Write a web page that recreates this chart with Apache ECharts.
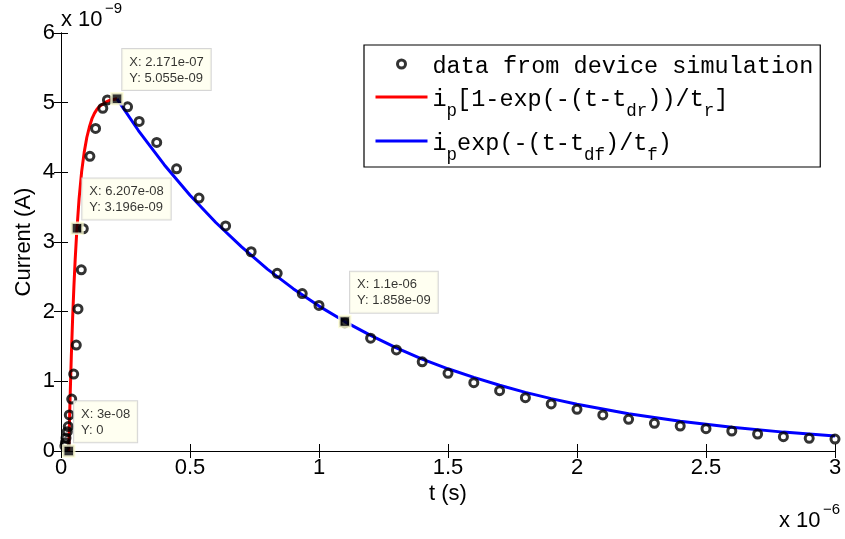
<!DOCTYPE html>
<html><head><meta charset="utf-8">
<script src="https://cdn.jsdelivr.net/npm/echarts@6/dist/echarts.min.js"></script>
<style>html,body{margin:0;padding:0;background:#fff}#c{width:845px;height:539px}</style>
</head><body><div id="c"></div>
<script>
// time in units of 1e-6 s, current in units of 1e-9 A
const simT = [0.015, 0.017, 0.0194, 0.0244, 0.0283, 0.0322, 0.0415, 0.0492, 0.0593, 0.0659, 0.0787, 0.0864, 0.112, 0.134, 0.162, 0.18,
  0.258, 0.303, 0.371, 0.448, 0.535, 0.638, 0.737, 0.838, 0.935, 1.0, 1.1, 1.2, 1.3, 1.4, 1.5, 1.6, 1.7, 1.8, 1.9, 2.0,
  2.1, 2.2, 2.3, 2.4, 2.5, 2.6, 2.7, 2.8, 2.9, 3.0];
const simY = [0.07, 0.12, 0.187, 0.278, 0.35, 0.517, 0.746, 1.105, 1.52, 2.04, 2.60, 3.19, 4.23, 4.63, 4.92, 5.04,
  4.94, 4.73, 4.43, 4.05, 3.63, 3.23, 2.86, 2.55, 2.26, 2.09, 1.84, 1.62, 1.45, 1.28, 1.115, 0.98, 0.866, 0.765, 0.675, 0.598,
  0.517, 0.455, 0.397, 0.359, 0.32, 0.287, 0.244, 0.205, 0.182, 0.172];

const riseT = [0.03, 0.035, 0.04, 0.045, 0.05, 0.055, 0.06, 0.06207, 0.07, 0.08, 0.09, 0.10, 0.11, 0.12, 0.13, 0.14, 0.15, 0.17, 0.19, 0.2171];
const riseY = [0, 0.73, 1.36, 1.90, 2.36, 2.75, 3.08, 3.196, 3.62, 4.01, 4.29, 4.50, 4.65, 4.77, 4.85, 4.91, 4.95, 5.00, 5.036, 5.055];

const fallT = [0.2171, 0.3, 0.4, 0.5, 0.6, 0.7, 0.8, 0.9, 1.0, 1.1, 1.2, 1.3, 1.4, 1.5, 1.6, 1.7, 1.8, 1.9, 2.0, 2.2, 2.4, 2.6, 2.8, 3.0];
const fallY = [5.055, 4.60, 4.11, 3.67, 3.28, 2.93, 2.61, 2.33, 2.08, 1.858, 1.66, 1.48, 1.32, 1.18, 1.056, 0.943, 0.842, 0.752, 0.671, 0.535, 0.427, 0.340, 0.271, 0.216];

const tipT = [0.03, 0.06207, 0.2171, 1.1];
const tipY = [0, 3.196, 5.055, 1.858];
const tipLabelX = ['3e-08', '6.207e-08', '2.171e-07', '1.1e-06'];
const tipLabelY = ['0', '3.196e-09', '5.055e-09', '1.858e-09'];

const xTicks = [0, 0.5, 1, 1.5, 2, 2.5, 3];
const yTicks = [0, 1, 2, 3, 4, 5, 6];

const seriesNames = ['data from device simulation', 'i_p[1-exp(-(t-t_dr))/t_r]', 'i_pexp(-(t-t_df)/t_f)'];
const legendRich = {
  'data from device simulation': '{m|data from device simulation}',
  'i_p[1-exp(-(t-t_dr))/t_r]': '{m|i}{s|p}{m|[1-exp(-(t-t}{s|dr}{m|))/t}{s|r}{m|]}',
  'i_pexp(-(t-t_df)/t_f)': '{m|i}{s|p}{m|exp(-(t-t}{s|df}{m|)/t}{s|f}{m|)}'
};

const SANS = 'Liberation Sans';
const MONO = 'Liberation Mono';
const zip = (a, b) => a.map((v, i) => [v, b[i]]);

const chart = echarts.init(document.getElementById('c'), null, {renderer: 'canvas'});
const axCommon = {
  axisLine: {show: true, lineStyle: {color: '#000', width: 1}},
  axisTick: {show: true, inside: true, length: 7, lineStyle: {color: '#000', width: 1}},
  splitLine: {show: false}
};
chart.setOption({
  animation: false,
  backgroundColor: '#fff',
  grid: {left: 61, right: 10, top: 33, bottom: 88, containLabel: false},
  xAxis: [
    Object.assign({type: 'value', min: 0, max: 3, interval: 0.5, position: 'bottom',
      name: 't (s)', nameLocation: 'middle', nameGap: 32, nameMoveOverlap: false,
      nameTextStyle: {fontFamily: SANS, fontSize: 22, color: '#000'},
      axisLabel: {fontFamily: SANS, fontSize: 22, color: '#000', margin: 6,
        formatter: v => xTicks.includes(v) ? String(v) : ''}}, axCommon),
    Object.assign({type: 'value', min: 0, max: 3, interval: 0.5, position: 'top', axisLabel: {show: false}}, axCommon)
  ],
  yAxis: [
    Object.assign({type: 'value', min: 0, max: 6, interval: 1, position: 'left',
      name: 'Current (A)', nameLocation: 'middle', nameGap: 26, nameMoveOverlap: false,
      nameTextStyle: {fontFamily: SANS, fontSize: 22, color: '#000'},
      axisLabel: {fontFamily: SANS, fontSize: 22, color: '#000', margin: 6,
        formatter: v => yTicks.includes(v) ? String(v) : ''}}, axCommon),
    Object.assign({type: 'value', min: 0, max: 6, interval: 1, position: 'right', axisLabel: {show: false}}, axCommon)
  ],
  legend: {
    show: true, orient: 'vertical', left: 364, top: 45,
    padding: [7, 7, 0, 10], itemGap: 6, itemWidth: 52, itemHeight: 8,
    backgroundColor: '#fff', borderColor: '#000', borderWidth: 1.2, borderRadius: 0,
    data: [
      {name: seriesNames[0], itemStyle: {color: 'rgba(255,255,255,0)', borderColor: '#000', borderWidth: 3}},
      {name: seriesNames[1], itemStyle: {opacity: 0}},
      {name: seriesNames[2], itemStyle: {opacity: 0}}
    ],
    selectedMode: false,
    formatter: n => legendRich[n],
    textStyle: {
      color: '#000', fontFamily: MONO, fontSize: 23.5,
      rich: {
        m: {fontFamily: MONO, fontSize: 23.5, lineHeight: 24, verticalAlign: 'top', padding: [3, 0, 0, 0], color: '#000'},
        s: {fontFamily: MONO, fontSize: 17.5, lineHeight: 22, verticalAlign: 'top', padding: [17, 0, 3, 0], color: '#000'}
      }
    },
    lineStyle: {width: 3}
  },
  graphic: [
    {type: 'text', left: 61, top: 9, style: {text: 'x 10', font: '22px "Liberation Sans"', fill: '#000'}},
    {type: 'text', left: 105, top: 1, style: {text: '\u22129', font: '15px "Liberation Sans"', fill: '#000'}},
    {type: 'text', left: 779, top: 510, style: {text: 'x 10', font: '22px "Liberation Sans"', fill: '#000'}},
    {type: 'text', left: 823, top: 502, style: {text: '\u22126', font: '15px "Liberation Sans"', fill: '#000'}}
  ],
  series: [
    {
      name: seriesNames[1], type: 'line', data: zip(riseT, riseY), symbol: 'none', smooth: false,
      lineStyle: {color: '#ff0000', width: 3}, itemStyle: {color: '#ff0000'}, z: 2
    },
    {
      name: seriesNames[2], type: 'line', data: zip(fallT, fallY), symbol: 'none', smooth: false,
      lineStyle: {color: '#0000ff', width: 3}, itemStyle: {color: '#0000ff'}, z: 2
    },
    {
      name: seriesNames[0], type: 'scatter', data: zip(simT, simY), symbol: 'circle', symbolSize: 8,
      itemStyle: {color: 'rgba(255,255,255,0)', borderColor: '#000', borderWidth: 3}, z: 3
    },
    {
      name: 'tips', type: 'scatter', data: tipT.map((t, i) => ({value: [t, tipY[i]],
        label: {formatter: 'X: ' + tipLabelX[i] + '\nY: ' + tipLabelY[i]}})),
      symbol: 'rect', symbolSize: 11, z: 10,
      itemStyle: {color: '#000', borderColor: '#ffffd8', borderWidth: 2.5},
      label: {show: true, position: [12, -43], fontFamily: SANS, fontSize: 13, lineHeight: 16, color: '#000',
        backgroundColor: '#ffffee', borderColor: '#cccccc', borderWidth: 1, padding: [5, 7, 4, 7]}
    }
  ]
});
</script></body></html>
